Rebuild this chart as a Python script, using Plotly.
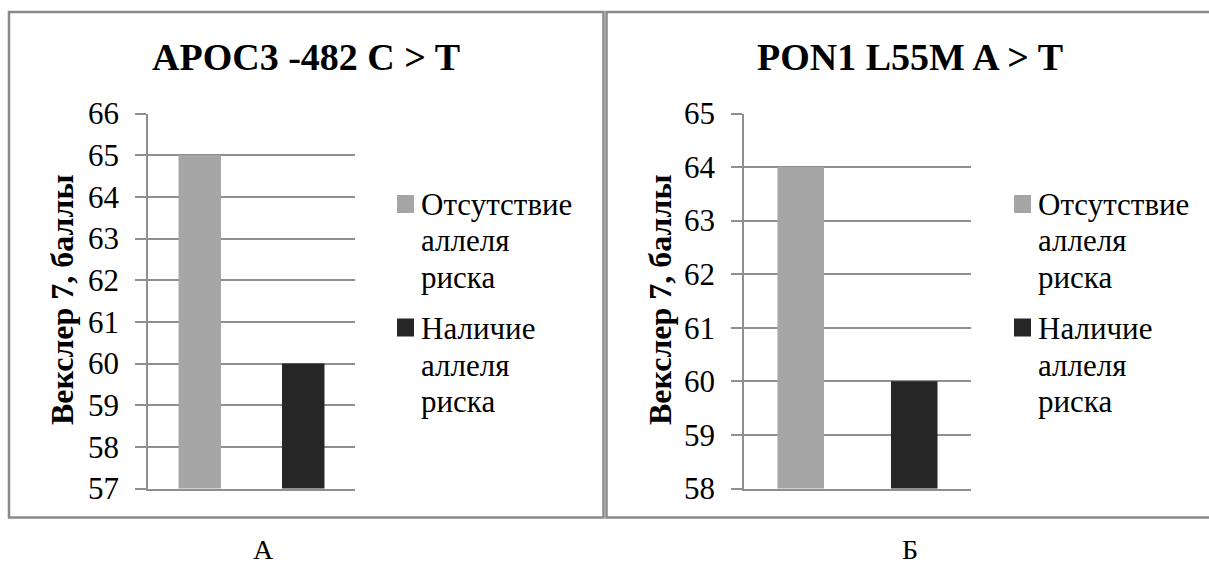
import plotly.graph_objects as go

# ---- data -------------------------------------------------------------
categories = ["Отсутствие аллеля риска", "Наличие аллеля риска"]
legend_names = ["Отсутствие<br>аллеля<br>риска", "Наличие<br>аллеля<br>риска"]
bar_colors = ["#a6a6a6", "#262626"]

panel_titles = ["APOC3 -482 C > T", "PON1 L55M A > T"]
panel_letters = ["А", "Б"]
axis_title = "Векслер 7, баллы"

apoc3_values = [65, 60]
pon1_values = [64, 60]

apoc3_ticks = [57, 58, 59, 60, 61, 62, 63, 64, 65, 66]
pon1_ticks = [58, 59, 60, 61, 62, 63, 64, 65]

# ---- page geometry (pixels) ------------------------------------------
W, H = 1209, 564
SERIF = "Times New Roman"
GRID = "#8f8f8f"
FRAME = "#8a8a8a"


def fx(px):
    return px / W


def fy(py):
    return 1 - py / H


panels = [
    dict(values=apoc3_values, ticks=apoc3_ticks, plot=(148, 355),
         title_x=305.5, ytitle_x=62, letter_x=263, legend_x=397,
         frame=(9, 603.5)),
    dict(values=pon1_values, ticks=pon1_ticks, plot=(744, 971),
         title_x=910, ytitle_x=660, letter_x=910, legend_x=1014,
         frame=(606.5, 1215)),
]
PLOT_TOP, PLOT_BOTTOM = 113.5, 488.5

fig = go.Figure()
annotations = []
shapes = []

for i, p in enumerate(panels, start=1):
    xa = "x" if i == 1 else f"x{i}"
    ya = "y" if i == 1 else f"y{i}"
    for cat, val, col in zip(categories, p["values"], bar_colors):
        fig.add_trace(go.Bar(
            x=[cat], y=[val], xaxis=xa, yaxis=ya, width=0.41,
            marker=dict(color=col, line=dict(width=0)),
            showlegend=False, hoverinfo="x+y",
        ))

    x0, x1 = p["plot"]
    sfx = "" if i == 1 else str(i)
    fig.update_layout({
        f"xaxis{sfx}": dict(
            domain=[fx(x0), fx(x1)], anchor=ya, type="category",
            categoryarray=categories, showticklabels=False, ticks="",
            showgrid=False, showline=True, linecolor=GRID, linewidth=1.5,
            zeroline=False, fixedrange=True, automargin=False,
        ),
        f"yaxis{sfx}": dict(
            domain=[fy(PLOT_BOTTOM), fy(PLOT_TOP)], anchor=xa,
            range=[p["ticks"][0], p["ticks"][-1]], tickvals=p["ticks"],
            showgrid=True, gridcolor=GRID, gridwidth=1.5,
            showline=True, linecolor=GRID, linewidth=1.5,
            ticks="outside", ticklen=11, tickwidth=1.5, tickcolor=GRID,
            ticklabelstandoff=10,
            tickfont=dict(family=SERIF, size=31, color="#000000"),
            zeroline=False, fixedrange=True, automargin=False,
        ),
    })

    # chart title
    annotations.append(dict(
        text=f"<b>{panel_titles[i - 1]}</b>", xref="paper", yref="paper",
        x=fx(p["title_x"]), y=fy(56.5), xanchor="center", yanchor="middle",
        showarrow=False, font=dict(family=SERIF, size=38, color="#000000"),
    ))
    # vertical axis title
    annotations.append(dict(
        text=f"<b>{axis_title}</b>", xref="paper", yref="paper",
        x=fx(p["ytitle_x"]), y=fy(300), xanchor="center", yanchor="middle",
        textangle=-90, showarrow=False,
        font=dict(family=SERIF, size=32, color="#000000"),
    ))
    # panel letter under the frame
    annotations.append(dict(
        text=panel_letters[i - 1], xref="paper", yref="paper",
        x=fx(p["letter_x"]), y=fy(549), xanchor="center", yanchor="middle",
        showarrow=False, font=dict(family=SERIF, size=28, color="#000000"),
    ))

    # legend: colour swatch plus wrapped label
    lx = p["legend_x"]
    for k, (name, col) in enumerate(zip(legend_names, bar_colors)):
        top = 195 + k * 123.5
        shapes.append(dict(
            type="rect", xref="paper", yref="paper",
            x0=fx(lx), x1=fx(lx + 17), y0=fy(top + 18), y1=fy(top),
            fillcolor=col, line=dict(width=0),
        ))
        for j, line in enumerate(name.split("<br>")):
            baseline = 214.5 + k * 124.5 + j * 36.5
            annotations.append(dict(
                text=line, xref="paper", yref="paper",
                x=fx(lx + 22), y=fy(baseline - 0.3375 * 31),
                xanchor="left", yanchor="middle", showarrow=False,
                font=dict(family=SERIF, size=31, color="#000000"),
            ))

    # panel frame
    fl, fr = p["frame"]
    shapes.append(dict(
        type="rect", xref="paper", yref="paper",
        x0=fx(fl), x1=fx(fr), y0=fy(517.5), y1=fy(12),
        line=dict(color=FRAME, width=2.5), layer="below",
    ))

fig.update_layout(
    width=W, height=H,
    margin=dict(l=0, r=0, t=0, b=0),
    paper_bgcolor="#ffffff", plot_bgcolor="rgba(0,0,0,0)",
    bargap=0.59, showlegend=False,
    annotations=annotations, shapes=shapes,
)

fig.write_html("out.html")
